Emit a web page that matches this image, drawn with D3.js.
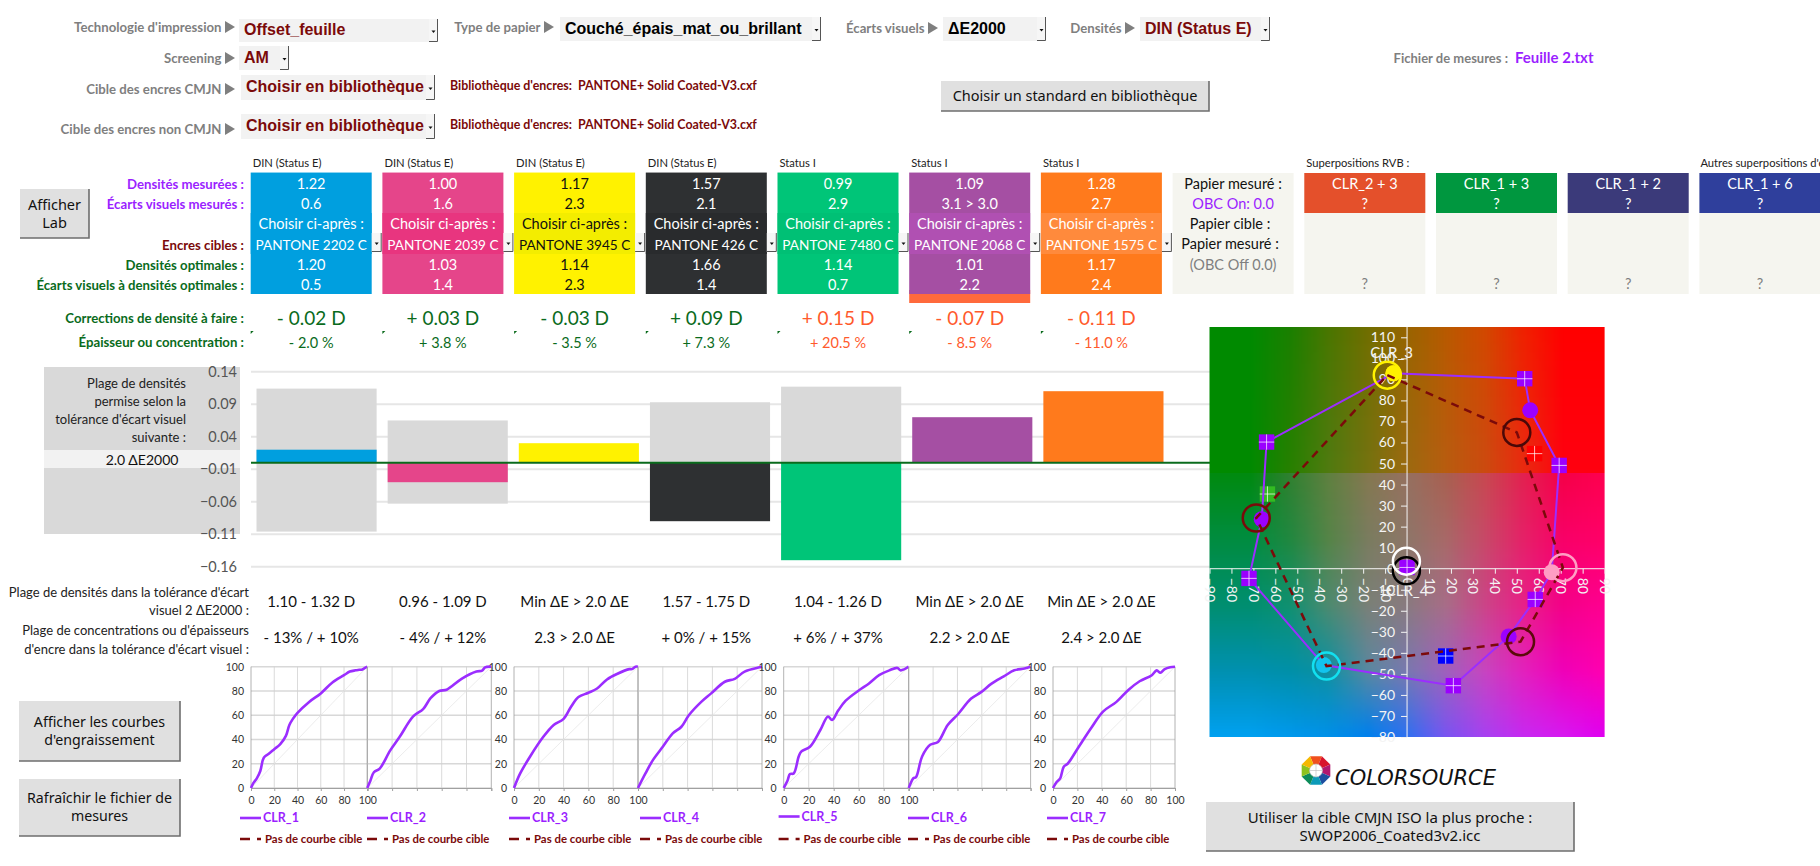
<!DOCTYPE html>
<html lang="fr">

<head>
    <meta charset="UTF-8">
    <title>Densités et écarts visuels</title>
    <style>
        html, body { margin: 0; padding: 0; background: #fff; overflow: hidden; }
        svg { display: block; }
    </style>
</head>

<body>
    <script src="https://cdn.jsdelivr.net/npm/d3@7/dist/d3.min.js"></script>
    <script type="text/javascript">
    // ink columns
    var inkNames = ["CLR_1", "CLR_2", "CLR_3", "CLR_4", "CLR_5", "CLR_6", "CLR_7"];
    var inkColors = ["#009FDF", "#E5458A", "#FFF200", "#2E3032", "#00C578", "#A54FA3", "#FF7A1C"];
    var inkBandColors = ["#009FDF", "#E8357F", "#F3ED00", "#292B2D", "#00C075", "#B050B2", "#FF8A3C"];
    var inkTextColors = ["#fff", "#fff", "#111", "#fff", "#fff", "#fff", "#fff"];
    var statusLabels = ["DIN (Status E)", "DIN (Status E)", "DIN (Status E)", "DIN (Status E)", "Status I", "Status I", "Status I"];
    var measuredDensity = ["1.22", "1.00", "1.17", "1.57", "0.99", "1.09", "1.28"];
    var measuredDeltaE = ["0.6", "1.6", "2.3", "2.1", "2.9", "3.1 > 3.0", "2.7"];
    var pantoneNames = ["PANTONE 2202 C", "PANTONE 2039 C", "PANTONE 3945 C", "PANTONE 426 C", "PANTONE 7480 C", "PANTONE 2068 C", "PANTONE 1575 C"];
    var optimalDensity = ["1.20", "1.03", "1.14", "1.66", "1.14", "1.01", "1.17"];
    var optimalDeltaE = ["0.5", "1.4", "2.3", "1.4", "0.7", "2.2", "2.4"];
    var corrections = ["- 0.02 D", "+ 0.03 D", "- 0.03 D", "+ 0.09 D", "+ 0.15 D", "- 0.07 D", "- 0.11 D"];
    var thickness = ["- 2.0 %", "+ 3.8 %", "- 3.5 %", "+ 7.3 %", "+ 20.5 %", "- 8.5 %", "- 11.0 %"];
    var correctionColors = ["#0A6B1C", "#0A6B1C", "#0A6B1C", "#0A6B1C", "#FF5A2C", "#FF5A2C", "#FF5A2C"];
    var densityRanges = ["1.10 - 1.32 D", "0.96 - 1.09 D", "Min ΔE > 2.0 ΔE", "1.57 - 1.75 D", "1.04 - 1.26 D", "Min ΔE > 2.0 ΔE", "Min ΔE > 2.0 ΔE"];
    var concentrationRanges = ["- 13% / + 10%", "- 4% / + 12%", "2.3 > 2.0 ΔE", "+ 0% / + 15%", "+ 6% / + 37%", "2.2 > 2.0 ΔE", "2.4 > 2.0 ΔE"];

    // overprint columns
    var overprintNames = ["CLR_2 + 3", "CLR_1 + 3", "CLR_1 + 2", "CLR_1 + 6"];
    var overprintColors = ["#E4502B", "#00973F", "#3B3A7A", "#2F3F9C"];

    // bar chart
    var barTicks = [0.14, 0.09, 0.04, -0.01, -0.06, -0.11, -0.16];
    var densityDiff = [0.02, -0.03, 0.03, -0.09, -0.15, 0.07, 0.11];
    var toleranceUp = [0.114, 0.065, 0, 0.093, 0.117, 0, 0];
    var toleranceDown = [-0.106, -0.063, 0, 0, 0, 0, 0];

    // a*b* diagram
    var gamutA = [-6.2, 53.6, 56.1, 69.3, 65.9, 58.4, 46.3, 21.1, -37.9, -72, -66.2, -64, -6.2];
    var gamutB = [92.9, 90.3, 75.3, 49.1, -1.7, -14.6, -32.2, -55.6, -45.8, -4.6, 23.5, 60.2, 92.9];
    var gamutSquare = [0, 1, 0, 1, 0, 1, 0, 1, 0, 1, 0, 1, 0];
    var gamutDotColor = ["#FFF200", "#9B00FF", "#9B00FF", "#9B00FF", "#FF9EC4", "#9B00FF", "#9B00FF", "#9B00FF", "#12C4EE", "#9B00FF", "#9B00FF", "#9B00FF", "#FFF200"];
    var targetA = [-9, 50, 71, 51.7, -36.7, -68.7, -9];
    var targetB = [92, 64.8, 0.5, -34.7, -46.3, 24.1, 92];
    var targetRing = ["#FFF200", "#4A0808", "#FF9EC4", "#5A0A0A", "#12E0F0", "#7A0A0A"];
    var paperRingA = [-0.3, -0.3];
    var paperRingB = [-1, 3.6];
    var paperRingColor = ["#000", "#fff"];
    var extraSquareA = [0, 58.1, -63.6, 17.6];
    var extraSquareB = [0.6, 54.7, 35.5, -41.5];
    var extraSquareColor = ["#9B00FF", "#FF0000", "#33BB22", "#0000FF"];
    var mapTicksA = d3.range(-90, 91, 10);
    var mapTicksB = d3.range(-80, 111, 10);

    // colour map samples, left to right (a* -90 to 90) and top to bottom
    var mapTopColors = [
        ["#008A00", "#008A00", "#1A8000", "#4A7600", "#716E00", "#996400", "#B85A00", "#D24800", "#F02000", "#FF0000", "#FF0000"],
        ["#008A00", "#008A00", "#268000", "#507A10", "#757210", "#9C6A10", "#B85C10", "#CC4A10", "#EA2A10", "#FF0010", "#FF0010"]
    ];
    var mapBottomColors = [
        ["#008A10", "#008A10", "#308030", "#5F8040", "#857850", "#967060", "#A86050", "#C84850", "#E42050", "#F50048", "#FF0050"],
        ["#008C40", "#008C40", "#208840", "#558448", "#7A7C60", "#8E7668", "#A86868", "#C84868", "#E62068", "#F80068", "#FF0068"],
        ["#008E70", "#008E70", "#109070", "#4D8A70", "#7A8078", "#8A7A80", "#A86C88", "#CC4488", "#E82088", "#F40088", "#FF0090"],
        ["#0090B0", "#0090B0", "#0090A8", "#1090A0", "#5A88A0", "#7A78B0", "#A060BC", "#C844C0", "#E420BC", "#F000B8", "#FF00B0"],
        ["#00A0F0", "#00A0F0", "#0098EC", "#0090E8", "#0080EC", "#3070F0", "#7A54F0", "#A840F0", "#C828F0", "#D818F0", "#E000F0"]
    ];

    // dot gain curves
    var curveInput = [
        [0, 2, 5, 8, 11, 15, 20, 25, 30, 33, 36, 40, 50, 60, 70, 80, 85, 90, 93, 95, 98, 100],
        [0, 2.5, 5.3, 10, 18.5, 26, 37, 45, 51, 58, 64, 76, 88, 92.6, 95, 100],
        [0, 5, 13, 23.5, 32, 40, 46, 52, 60, 67, 75, 83, 93, 95, 98, 100],
        [0, 6, 12, 20, 28, 35, 41, 51, 59, 70, 78, 86, 98, 100],
        [0, 3, 5, 8, 12, 14, 21, 29.4, 35.4, 38.7, 43.7, 49.6, 60, 68, 76.3, 84.5, 91, 93.4, 96.7, 100],
        [0, 1, 3.8, 6, 11, 17.6, 24, 32, 40.6, 51, 59.4, 68, 78, 86.6, 95, 100],
        [0, 3, 5.9, 8.8, 12, 20.5, 31, 41, 52, 62, 71, 81, 85, 88, 91.6, 96, 100]
    ];
    var curveOutput = [
        [0, 4, 8, 14, 25, 28, 32, 36, 43, 52, 57, 62, 71, 78, 87, 93, 96, 97, 97.5, 97.5, 99, 100],
        [0, 6, 13, 16, 31, 42, 59, 65, 74, 80, 81, 90, 96, 96.7, 99.5, 100],
        [0, 12, 26, 42, 52, 57, 67, 75, 78.5, 82, 89.5, 94, 98, 98, 100, 100],
        [0, 12, 23, 34, 45, 50.5, 60, 71, 78, 87.6, 90, 96, 99.5, 100],
        [0, 6, 11.5, 12, 26, 30, 34, 48, 59, 56, 64, 72, 80.4, 86, 93, 97, 99, 97, 98, 100],
        [0, 2.5, 8, 9, 26, 35.6, 38, 52, 61, 73.5, 79, 86, 92, 97, 98.5, 100],
        [0, 5, 8, 17.6, 20, 33, 49, 63, 71, 81, 88, 93, 97, 95, 98, 99.5, 100]
    ];
    var curveTicks = [0, 20, 40, 60, 80, 100];

    var w = 1820,
        h = 866,
        lato = "Lato, sans-serif",
        arial = "'Liberation Sans', Arial, sans-serif",
        buttonFont = "'Noto Sans', sans-serif",
        gray = "#7F7F7F",
        darkRed = "#7B0A0A",
        darkGreen = "#0A6B1C",
        purple = "#9B1FFF";

    var svg = d3.select("body").append("svg")
        .attr("width", w)
        .attr("height", h);

    function label(x, y, str, size, color, anchor, bold, family) {
        return svg.append("text")
            .attr("x", x)
            .attr("y", y)
            .attr("dy", "0.35em")
            .attr("font-family", family || lato)
            .attr("font-size", size + "px")
            .attr("font-weight", bold ? "bold" : "normal")
            .attr("text-anchor", anchor || "start")
            .attr("fill", color)
            .text(str);
    }

    function arrowButton(x, y, bw, bh) {
        svg.append("rect").attr("x", x).attr("y", y).attr("width", bw).attr("height", bh).attr("fill", "#F6F6F6");
        svg.append("path")
            .attr("d", "M" + x + "," + (y + bh - 0.5) + "H" + (x + bw - 0.5) + "V" + y)
            .attr("fill", "none").attr("stroke", "#555").attr("stroke-width", 1);
        svg.append("path")
            .attr("d", "M" + (x + bw / 2 - 2) + "," + (y + bh / 2) + "h4l-2,2.5z")
            .attr("fill", "#111");
    }

    function dropdown(x, y, bw, bh, str, color) {
        svg.append("rect").attr("x", x).attr("y", y).attr("width", bw - 9).attr("height", bh).attr("fill", "#F2F2F2");
        arrowButton(x + bw - 9, y, 9, bh);
        label(x + 5, y + bh / 2 - 1, str, 16, color, "start", true, arial);
    }

    function selectorLabel(xEnd, y, str) {
        label(xEnd - 13.5, y, str, 13.2, gray, "end", true);
        svg.append("path")
            .attr("d", "M" + (xEnd - 10) + "," + (y - 6) + "l10,6l-10,6z")
            .attr("fill", gray);
    }

    function button(x, y, bw, bh, lines, size) {
        svg.append("rect").attr("x", x).attr("y", y).attr("width", bw).attr("height", bh).attr("fill", "#E0E0E0");
        svg.append("path")
            .attr("d", "M" + x + "," + (y + bh) + "H" + (x + bw) + "V" + y)
            .attr("fill", "none").attr("stroke", "#6E6E6E").attr("stroke-width", 1.6);
        lines.forEach(function(line, i) {
            label(x + bw / 2, y + bh / 2 + (i - (lines.length - 1) / 2) * 18, line, size, "#111", "middle", false, buttonFont);
        });
    }

    // top selectors
    selectorLabel(235, 27, "Technologie d'impression");
    dropdown(239, 19, 199, 23, "Offset_feuille", darkRed);
    selectorLabel(554, 27, "Type de papier");
    dropdown(560, 17, 261, 24, "Couché_épais_mat_ou_brillant", "#000");
    selectorLabel(938, 28, "Écarts visuels");
    dropdown(943, 17, 103, 24, "ΔE2000", "#000");
    selectorLabel(1135, 28, "Densités");
    dropdown(1140, 17, 130, 24, "DIN (Status E)", darkRed);
    selectorLabel(235, 58, "Screening");
    dropdown(239, 46, 50, 24, "AM", darkRed);
    selectorLabel(235, 89, "Cible des encres CMJN");
    dropdown(241, 75, 194, 25, "Choisir en bibliothèque", darkRed);
    selectorLabel(235, 129, "Cible des encres non CMJN");
    dropdown(241, 114, 194, 25, "Choisir en bibliothèque", darkRed);
    label(450, 86, "Bibliothèque d'encres:\u00A0\u00A0PANTONE+ Solid Coated-V3.cxf", 12.4, darkRed, "start", true);
    label(450, 125, "Bibliothèque d'encres:\u00A0\u00A0PANTONE+ Solid Coated-V3.cxf", 12.4, darkRed, "start", true);
    label(1508, 58, "Fichier de mesures :", 13, gray, "end", true);
    label(1515, 58, "Feuille 2.txt", 15, purple, "start", true);
    button(941, 81, 268, 30, ["Choisir un standard en bibliothèque"], 14.5);
    button(20, 189, 69, 49, ["Afficher", "Lab"], 14.5);

    // row titles
    var rowTitleY = [184, 204, 245, 265, 285];
    var rowTitles = ["Densités mesurées :", "Écarts visuels mesurés :", "Encres cibles :", "Densités optimales :", "Écarts visuels à densités optimales :"];
    var rowTitleColors = [purple, purple, darkRed, darkGreen, darkGreen];
    rowTitles.forEach(function(t, i) {
        label(244, rowTitleY[i], t, 13.2, rowTitleColors[i], "end", true);
    });
    label(244, 318, "Corrections de densité à faire :", 13.2, darkGreen, "end", true);
    label(244, 342, "Épaisseur ou concentration :", 13.2, darkGreen, "end", true);

    // ink cells
    var cellWidth = 121;
    var cellX = d3.scalePoint().domain(d3.range(12)).range([250.7, 250.7 + 131.7 * 11]);

    inkNames.forEach(function(name, i) {
        var x = cellX(i), cx = x + cellWidth / 2, fg = inkTextColors[i];
        label(x + 2, 163, statusLabels[i], 11.2, "#222");
        if (i === 5) {
            svg.append("rect").attr("x", x).attr("y", 290).attr("width", cellWidth).attr("height", 13).attr("fill", "#FF6A3C");
        }
        svg.append("rect").attr("x", x).attr("y", 173).attr("width", cellWidth).attr("height", 121).attr("fill", inkColors[i]);
        svg.append("rect").attr("x", x).attr("y", 213).attr("width", cellWidth).attr("height", 41).attr("fill", inkBandColors[i]);
        svg.append("rect").attr("x", x).attr("y", 172).attr("width", cellWidth).attr("height", 1.2).attr("fill", inkColors[i]).attr("fill-opacity", 0.45);
        label(cx, 184, measuredDensity[i], 14.5, fg, "middle");
        label(cx, 204, measuredDeltaE[i], 14.5, fg, "middle");
        label(cx, 224, "Choisir ci-après :", 14.5, fg, "middle");
        label(cx, 245, pantoneNames[i], 13.6, fg, "middle");
        label(cx, 265, optimalDensity[i], 14.5, fg, "middle");
        label(cx, 285, optimalDeltaE[i], 14.5, fg, "middle");
        arrowButton(x + cellWidth, 233, 10, 19);

        label(x + 60.5, 318, corrections[i], 19, correctionColors[i], "middle");
        label(x + 60.5, 343, thickness[i], 14.5, correctionColors[i], "middle");
        svg.append("path").attr("d", "M" + x + ",331h3l-3,3z").attr("fill", darkGreen);
        label(x + 60.5, 602, densityRanges[i], 15, "#111", "middle");
        label(x + 60.5, 638, concentrationRanges[i], 15, "#111", "middle");
    });

    // paper cell
    var paperX = cellX(7), paperCx = paperX + cellWidth / 2;
    svg.append("rect").attr("x", paperX).attr("y", 173).attr("width", cellWidth).attr("height", 121).attr("fill", "#F5F5EF");
    label(paperCx, 184, "Papier mesuré :", 14.5, "#111", "middle");
    label(paperCx, 204, "OBC On: 0.0", 14.5, purple, "middle");
    label(paperCx - 3, 224, "Papier cible :", 14.5, "#111", "middle");
    label(paperCx - 3, 244, "Papier mesuré :", 14.5, "#111", "middle");
    label(paperCx, 265, "(OBC Off 0.0)", 14.5, gray, "middle");

    // overprint cells
    label(cellX(8) + 2, 163, "Superpositions RVB :", 11.2, "#222");
    label(cellX(11) + 1, 163, "Autres superpositions d'encres", 11.2, "#222");
    overprintNames.forEach(function(name, i) {
        var x = cellX(8 + i), cx = x + cellWidth / 2;
        svg.append("rect").attr("x", x).attr("y", 173).attr("width", cellWidth).attr("height", 121).attr("fill", "#F5F5EF");
        svg.append("rect").attr("x", x).attr("y", 173).attr("width", cellWidth).attr("height", 40).attr("fill", overprintColors[i]);
        label(cx, 184, name, 14.5, "#fff", "middle");
        label(cx, 204, "?", 14.5, "#fff", "middle");
        label(cx, 284, "?", 14.5, gray, "middle");
    });

    // tolerance panel
    svg.append("rect").attr("x", 44).attr("y", 367).attr("width", 196).attr("height", 167).attr("fill", "#D9D9D9");
    svg.append("rect").attr("x", 44).attr("y", 450).attr("width", 196).attr("height", 18).attr("fill", "#F2F2F2");
    ["Plage de densités", "permise selon la", "tolérance d'écart visuel", "suivante :"].forEach(function(t, i) {
        label(186, 383 + i * 18, t, 13, "#222", "end");
    });
    label(142, 460, "2.0 ΔE2000", 14, "#111", "middle");

    // bar chart
    var barY = d3.scaleLinear().domain([-0.16, 0.14]).range([566.7, 371.7]);
    var barX = d3.scaleBand().domain(d3.range(7)).range([251, 1169]).paddingInner(0.084).paddingOuter(0.042);

    var barAxis = svg.append("g")
        .attr("transform", "translate(251,0)")
        .call(d3.axisLeft(barY).tickValues(barTicks).tickSize(0).tickPadding(14).tickFormat(d3.format(".2f")));
    barAxis.select(".domain").remove();
    barAxis.selectAll("text").attr("font-family", lato).attr("font-size", "14.5px").attr("fill", "#555");
    barAxis.selectAll("line.grid")
        .data(barTicks)
        .enter()
        .append("line")
        .attr("x1", 0).attr("x2", 959)
        .attr("y1", function(d) { return barY(d); })
        .attr("y2", function(d) { return barY(d); })
        .attr("stroke", "#E6E6E6").attr("stroke-width", 2);

    svg.selectAll("rect.tolerance")
        .data(d3.range(7))
        .enter()
        .append("rect")
        .attr("x", function(i) { return barX(i); })
        .attr("y", function(i) { return barY(toleranceUp[i]); })
        .attr("width", barX.bandwidth())
        .attr("height", function(i) { return barY(toleranceDown[i]) - barY(toleranceUp[i]); })
        .attr("fill", "#D9D9D9");

    svg.selectAll("rect.diff")
        .data(d3.range(7))
        .enter()
        .append("rect")
        .attr("x", function(i) { return barX(i); })
        .attr("y", function(i) { return barY(Math.max(0, densityDiff[i])); })
        .attr("width", barX.bandwidth())
        .attr("height", function(i) { return Math.abs(barY(densityDiff[i]) - barY(0)); })
        .attr("fill", function(i) { return inkColors[i]; });

    svg.append("line")
        .attr("x1", 251).attr("x2", 1210)
        .attr("y1", barY(0)).attr("y2", barY(0))
        .attr("stroke", "#0A6B1C").attr("stroke-width", 2);

    // row titles under the bars
    label(249, 592, "Plage de densités dans la tolérance d'écart", 13, "#222", "end");
    label(249, 610, "visuel 2 ΔE2000 :", 13, "#222", "end");
    label(249, 630, "Plage de concentrations ou d'épaisseurs", 13, "#222", "end");
    label(249, 649, "d'encre dans la tolérance d'écart visuel :", 13, "#222", "end");

    // a*b* colour map, painted from the sampled colours
    function colorPatch(colors, x0, y0, pw, ph) {
        var cv = document.createElement("canvas");
        var cols = colors[0].length - 1, rows = colors.length - 1;
        cv.width = Math.round(pw / 3);
        cv.height = Math.round(ph / 3);
        var ctx = cv.getContext("2d");
        for (var px = 0; px < cv.width; px++) {
            for (var py = 0; py < cv.height; py++) {
                var u = px / (cv.width - 1) * cols, v = py / (cv.height - 1) * rows;
                var c = Math.min(Math.floor(u), cols - 1), r = Math.min(Math.floor(v), rows - 1);
                var top = d3.interpolateRgb(colors[r][c], colors[r][c + 1])(u - c);
                var bottom = d3.interpolateRgb(colors[r + 1][c], colors[r + 1][c + 1])(u - c);
                ctx.fillStyle = d3.interpolateRgb(top, bottom)(v - r);
                ctx.fillRect(px, py, 1, 1);
            }
        }
        svg.append("image")
            .attr("x", x0).attr("y", y0).attr("width", pw).attr("height", ph)
            .attr("preserveAspectRatio", "none")
            .attr("href", cv.toDataURL());
    }

    var mapX = d3.scaleLinear().domain([-90, 90]).range([1209.5, 1604.6]);
    var mapY = d3.scaleLinear().domain([-80, 110]).range([737, 337.3]);
    var mapTop = 327, mapBottom = 737, mapBreak = 473;

    colorPatch(mapTopColors, mapX(-90), mapTop, mapX(90) - mapX(-90), mapBreak - mapTop);
    colorPatch(mapBottomColors, mapX(-90), mapBreak, mapX(90) - mapX(-90), mapBottom - mapBreak);

    var axisColor = "#F4F4F4";
    var axisB = svg.append("g")
        .attr("transform", "translate(" + mapX(0) + ",0)")
        .call(d3.axisLeft(mapY).tickValues(mapTicksB).tickSize(6).tickPadding(6));
    axisB.select(".domain").remove();
    axisB.selectAll("line").attr("stroke", axisColor);
    axisB.selectAll("text").attr("font-family", lato).attr("font-size", "14px").attr("fill", axisColor);
    svg.append("line").attr("x1", mapX(0)).attr("x2", mapX(0)).attr("y1", mapTop).attr("y2", mapBottom).attr("stroke", axisColor);

    var axisA = svg.append("g")
        .attr("transform", "translate(0," + mapY(0) + ")")
        .call(d3.axisBottom(mapX).tickValues(mapTicksA).tickSize(5).tickPadding(6));
    axisA.select(".domain").remove();
    axisA.selectAll("line").attr("stroke", axisColor);
    axisA.selectAll("text")
        .attr("font-family", lato).attr("font-size", "14px").attr("fill", axisColor)
        .attr("text-anchor", "start").attr("dy", "0.35em")
        .attr("transform", "rotate(90)")
        .attr("x", 9).attr("y", 0);
    svg.append("line").attr("x1", mapX(-90)).attr("x2", mapX(90)).attr("y1", mapY(0)).attr("y2", mapY(0)).attr("stroke", axisColor);

    label(mapX(-7), 353, "CLR_3", 15, "#F4F4F4", "middle");
    label(mapX(0), 591, "CLR_4", 15, "#F4F4F4", "middle");

    var targetLine = d3.line()
        .x(function(i) { return mapX(targetA[i]); })
        .y(function(i) { return mapY(targetB[i]); });
    var gamutLine = d3.line()
        .x(function(i) { return mapX(gamutA[i]); })
        .y(function(i) { return mapY(gamutB[i]); });

    function squareMark(a, b, color) {
        var x = mapX(a), y = mapY(b), s = 7.7;
        svg.append("rect").attr("x", x - s).attr("y", y - s).attr("width", 2 * s).attr("height", 2 * s).attr("fill", color);
        svg.append("path")
            .attr("d", "M" + (x - s) + "," + y + "H" + (x + s) + "M" + x + "," + (y - s) + "V" + (y + s))
            .attr("stroke", "#fff").attr("stroke-opacity", 0.7).attr("stroke-width", 1);
    }

    extraSquareA.forEach(function(a, i) {
        if (i > 0) squareMark(a, extraSquareB[i], extraSquareColor[i]);
    });

    svg.append("path")
        .attr("d", gamutLine(d3.range(gamutA.length)))
        .attr("fill", "none").attr("stroke", "#9B2DFF").attr("stroke-width", 2);

    gamutA.forEach(function(a, i) {
        if (gamutSquare[i]) {
            squareMark(a, gamutB[i], "#9B00FF");
        } else {
            svg.append("circle")
                .attr("cx", mapX(a)).attr("cy", mapY(gamutB[i])).attr("r", 8)
                .attr("fill", gamutDotColor[i]);
        }
    });

    squareMark(extraSquareA[0], extraSquareB[0], extraSquareColor[0]);

    svg.append("path")
        .attr("d", targetLine(d3.range(targetA.length)))
        .attr("fill", "none").attr("stroke", "#7B0A0A").attr("stroke-width", 2.5).attr("stroke-dasharray", "8,6");

    targetRing.forEach(function(color, i) {
        svg.append("circle")
            .attr("cx", mapX(targetA[i])).attr("cy", mapY(targetB[i])).attr("r", 13.5)
            .attr("fill", "none").attr("stroke", color).attr("stroke-width", 2.5);
    });
    paperRingColor.forEach(function(color, i) {
        svg.append("circle")
            .attr("cx", mapX(paperRingA[i])).attr("cy", mapY(paperRingB[i])).attr("r", 13.5)
            .attr("fill", "none").attr("stroke", color).attr("stroke-width", 2.5);
    });

    // dot gain charts
    var curveLeft = [251, 367.3, 514, 638, 783.7, 908.7, 1053];
    var curveRight = [367.3, 491.3, 638, 762, 908.7, 1030.6, 1175];
    var curveShowsLabels = [true, false, true, false, true, false, true];
    var legendX = [240, 367, 509, 640, 778.6, 908, 1047];
    var legendY = [818, 818, 818, 818, 816.5, 818, 818];
    var curveY = d3.scaleLinear().domain([0, 100]).range([788, 666.7]);

    inkNames.forEach(function(name, i) {
        var curveX = d3.scaleLinear().domain([0, 100]).range([curveLeft[i], curveRight[i]]);
        var g = svg.append("g");

        g.selectAll("line.h")
            .data(curveTicks)
            .enter()
            .append("line")
            .attr("x1", curveX(0)).attr("x2", curveX(100))
            .attr("y1", function(d) { return curveY(d); })
            .attr("y2", function(d) { return curveY(d); })
            .attr("stroke", "#D8D8D8").attr("stroke-width", 1.6);
        g.selectAll("line.v")
            .data(curveTicks)
            .enter()
            .append("line")
            .attr("x1", function(d) { return curveX(d); })
            .attr("x2", function(d) { return curveX(d); })
            .attr("y1", curveY(0)).attr("y2", curveY(100) )
            .attr("stroke", function(d) { return d === 100 || d === 0 ? "#A0A0A0" : "#D0D0D0"; })
            .attr("stroke-width", 0.8);
        g.append("line")
            .attr("x1", curveX(0)).attr("x2", curveX(100))
            .attr("y1", curveY(0)).attr("y2", curveY(100))
            .attr("stroke", "#E4E4E4").attr("stroke-width", 0.7);

        var xAxis = g.append("g")
            .attr("transform", "translate(0," + curveY(0) + ")")
            .call(d3.axisBottom(curveX).tickValues(curveTicks).tickSize(3).tickPadding(6)
                .tickFormat(curveShowsLabels[i] ? d3.format("d") : ""));
        xAxis.select(".domain").attr("stroke", "#A0A0A0");
        xAxis.selectAll("line").attr("stroke", "#A0A0A0");
        xAxis.selectAll("text").attr("font-family", lato).attr("font-size", "10.5px").attr("fill", "#333");

        if (curveShowsLabels[i]) {
            var yAxis = g.append("g")
                .attr("transform", "translate(" + curveX(0) + ",0)")
                .call(d3.axisLeft(curveY).tickValues(curveTicks).tickSize(0).tickPadding(7));
            yAxis.select(".domain").remove();
            yAxis.selectAll("text").attr("font-family", lato).attr("font-size", "10.5px").attr("fill", "#333");
        }

        var line = d3.line()
            .x(function(j) { return curveX(curveInput[i][j]); })
            .y(function(j) { return curveY(curveOutput[i][j]); })
            .curve(d3.curveCatmullRom.alpha(0.5));
        g.append("path")
            .attr("d", line(d3.range(curveInput[i].length)))
            .attr("fill", "none").attr("stroke", "#9B2DFF").attr("stroke-width", 2.6);

        // legend
        svg.append("line")
            .attr("x1", legendX[i]).attr("x2", legendX[i] + 21)
            .attr("y1", legendY[i]).attr("y2", legendY[i])
            .attr("stroke", "#9B2DFF").attr("stroke-width", 2.6);
        label(legendX[i] + 23, legendY[i], name, 12.5, purple, "start", true);
        svg.append("path")
            .attr("d", "M" + legendX[i] + ",839h10M" + (legendX[i] + 17) + ",839h4")
            .attr("stroke", darkRed).attr("stroke-width", 2.4);
        label(legendX[i] + 25, 839, "Pas de courbe cible", 11.4, darkRed, "start", true);
    });

    // side buttons
    button(19, 701, 161, 60, ["Afficher les courbes", "d'engraissement"], 14.2);
    button(19, 779, 161, 57, ["Rafraîchir le fichier de", "mesures"], 14.2);
    button(1206, 802, 368, 49, ["Utiliser la cible CMJN ISO la plus proche :", "SWOP2006_Coated3v2.icc"], 15);

    // logo, an octagon of eight coloured blades around a white centre
    var logoColors = ["#F0501E", "#D8142C", "#B0186F", "#1C4FA0", "#0C9AB8", "#0C8C5A", "#8CC21E", "#F5B800"];
    var logo = svg.append("g").attr("transform", "translate(1316,770.5)");
    logo.selectAll("path")
        .data(d3.pie().value(1).sort(null).startAngle(-Math.PI / 8).endAngle(2 * Math.PI - Math.PI / 8)(logoColors))
        .enter()
        .append("path")
        .attr("d", function(d) {
            return "M" + d3.pointRadial(d.startAngle, 5.5) + "L" + d3.pointRadial(d.startAngle, 15.5) +
                "L" + d3.pointRadial(d.endAngle, 15.5) + "L" + d3.pointRadial(d.endAngle, 5.5) + "Z";
        })
        .attr("fill", function(d) { return d.data; });
    logo.append("circle").attr("r", 6.5).attr("fill", "#fff").attr("stroke", "#BBB").attr("stroke-width", 0.6);
    logo.append("path").attr("d", "M-6.5,0H6.5M0,-6.5V6.5").attr("stroke", "#BBB").attr("stroke-width", 0.6);
    label(1335, 777, "COLORSOURCE", 22, "#111", "start", false, "'DejaVu Sans', sans-serif")
        .attr("font-style", "italic")
        .attr("textLength", 161)
        .attr("lengthAdjust", "spacingAndGlyphs");
    </script>
</body>

</html>
